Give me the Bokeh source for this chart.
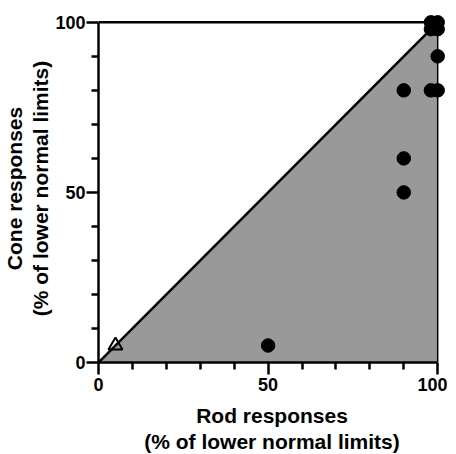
from bokeh.plotting import figure
from bokeh.models import Range1d, FixedTicker
from bokeh.embed import file_html
from bokeh.resources import INLINE

# data
rod_pct = [50, 90, 90, 90, 98, 100, 100, 98, 100, 98, 100]
cone_pct = [5, 50, 60, 80, 80, 80, 90, 98, 98, 100, 100]
open_rod = [5]
open_cone = [5]
limit = 100
major_ticks = [0, 50, 100]
minor_ticks = [10, 20, 30, 40, 60, 70, 80, 90]

FONT = "Liberation Sans"

p = figure(output_backend="svg", toolbar_location=None,
           x_range=Range1d(0, 102.3), y_range=Range1d(0, 102.3),
           frame_width=347, frame_height=348,
           min_border_left=91, min_border_top=14, min_border_right=2, min_border_bottom=80)
p.outline_line_color = None
p.xgrid.visible = False
p.ygrid.visible = False
p.background_fill_color = "white"

# shaded region below identity line
p.patch([0, limit, limit], [0, 0, limit], fill_color="#999999", line_color=None)
p.line([0, limit], [0, limit], line_color="black", line_width=2.5)
p.line([0, limit], [limit, limit], line_color="black", line_width=2.5)
p.line([limit, limit], [0, limit], line_color="black", line_width=1.5)

p.scatter(rod_pct, cone_pct, marker="circle", size=13.5, fill_color="black", line_color="black")
p.scatter(open_rod, open_cone, marker="triangle", size=14, fill_color=None,
          line_color="black", line_width=2)

for ax in (p.xaxis[0], p.yaxis[0]):
    ax.bounds = (0, limit)
    ax.ticker = FixedTicker(ticks=major_ticks, minor_ticks=minor_ticks)
    ax.axis_line_width = 2.5
    ax.major_tick_line_width = 2.5
    ax.minor_tick_line_width = 2.5
    ax.major_tick_out = 12
    ax.major_tick_in = 0
    ax.minor_tick_out = 7
    ax.minor_tick_in = 0
    ax.major_label_text_font = FONT
    ax.major_label_text_font_style = "bold"
    ax.major_label_text_font_size = "18px"
    ax.major_label_text_color = "black"
    ax.axis_label_text_font = FONT
    ax.axis_label_text_font_style = "bold"
    ax.axis_label_text_font_size = "21px"
    ax.axis_label_text_color = "black"
    ax.axis_label_text_line_height = 1.15

p.xaxis[0].axis_label = "Rod responses\n(% of lower normal limits)"
p.yaxis[0].axis_label = "Cone responses\n(% of lower normal limits)"
p.xaxis[0].major_label_standoff = 3
p.yaxis[0].major_label_standoff = 1
p.xaxis[0].axis_label_standoff = 10
p.yaxis[0].axis_label_standoff = 0

open("out.html", "w").write(file_html(p, INLINE))
